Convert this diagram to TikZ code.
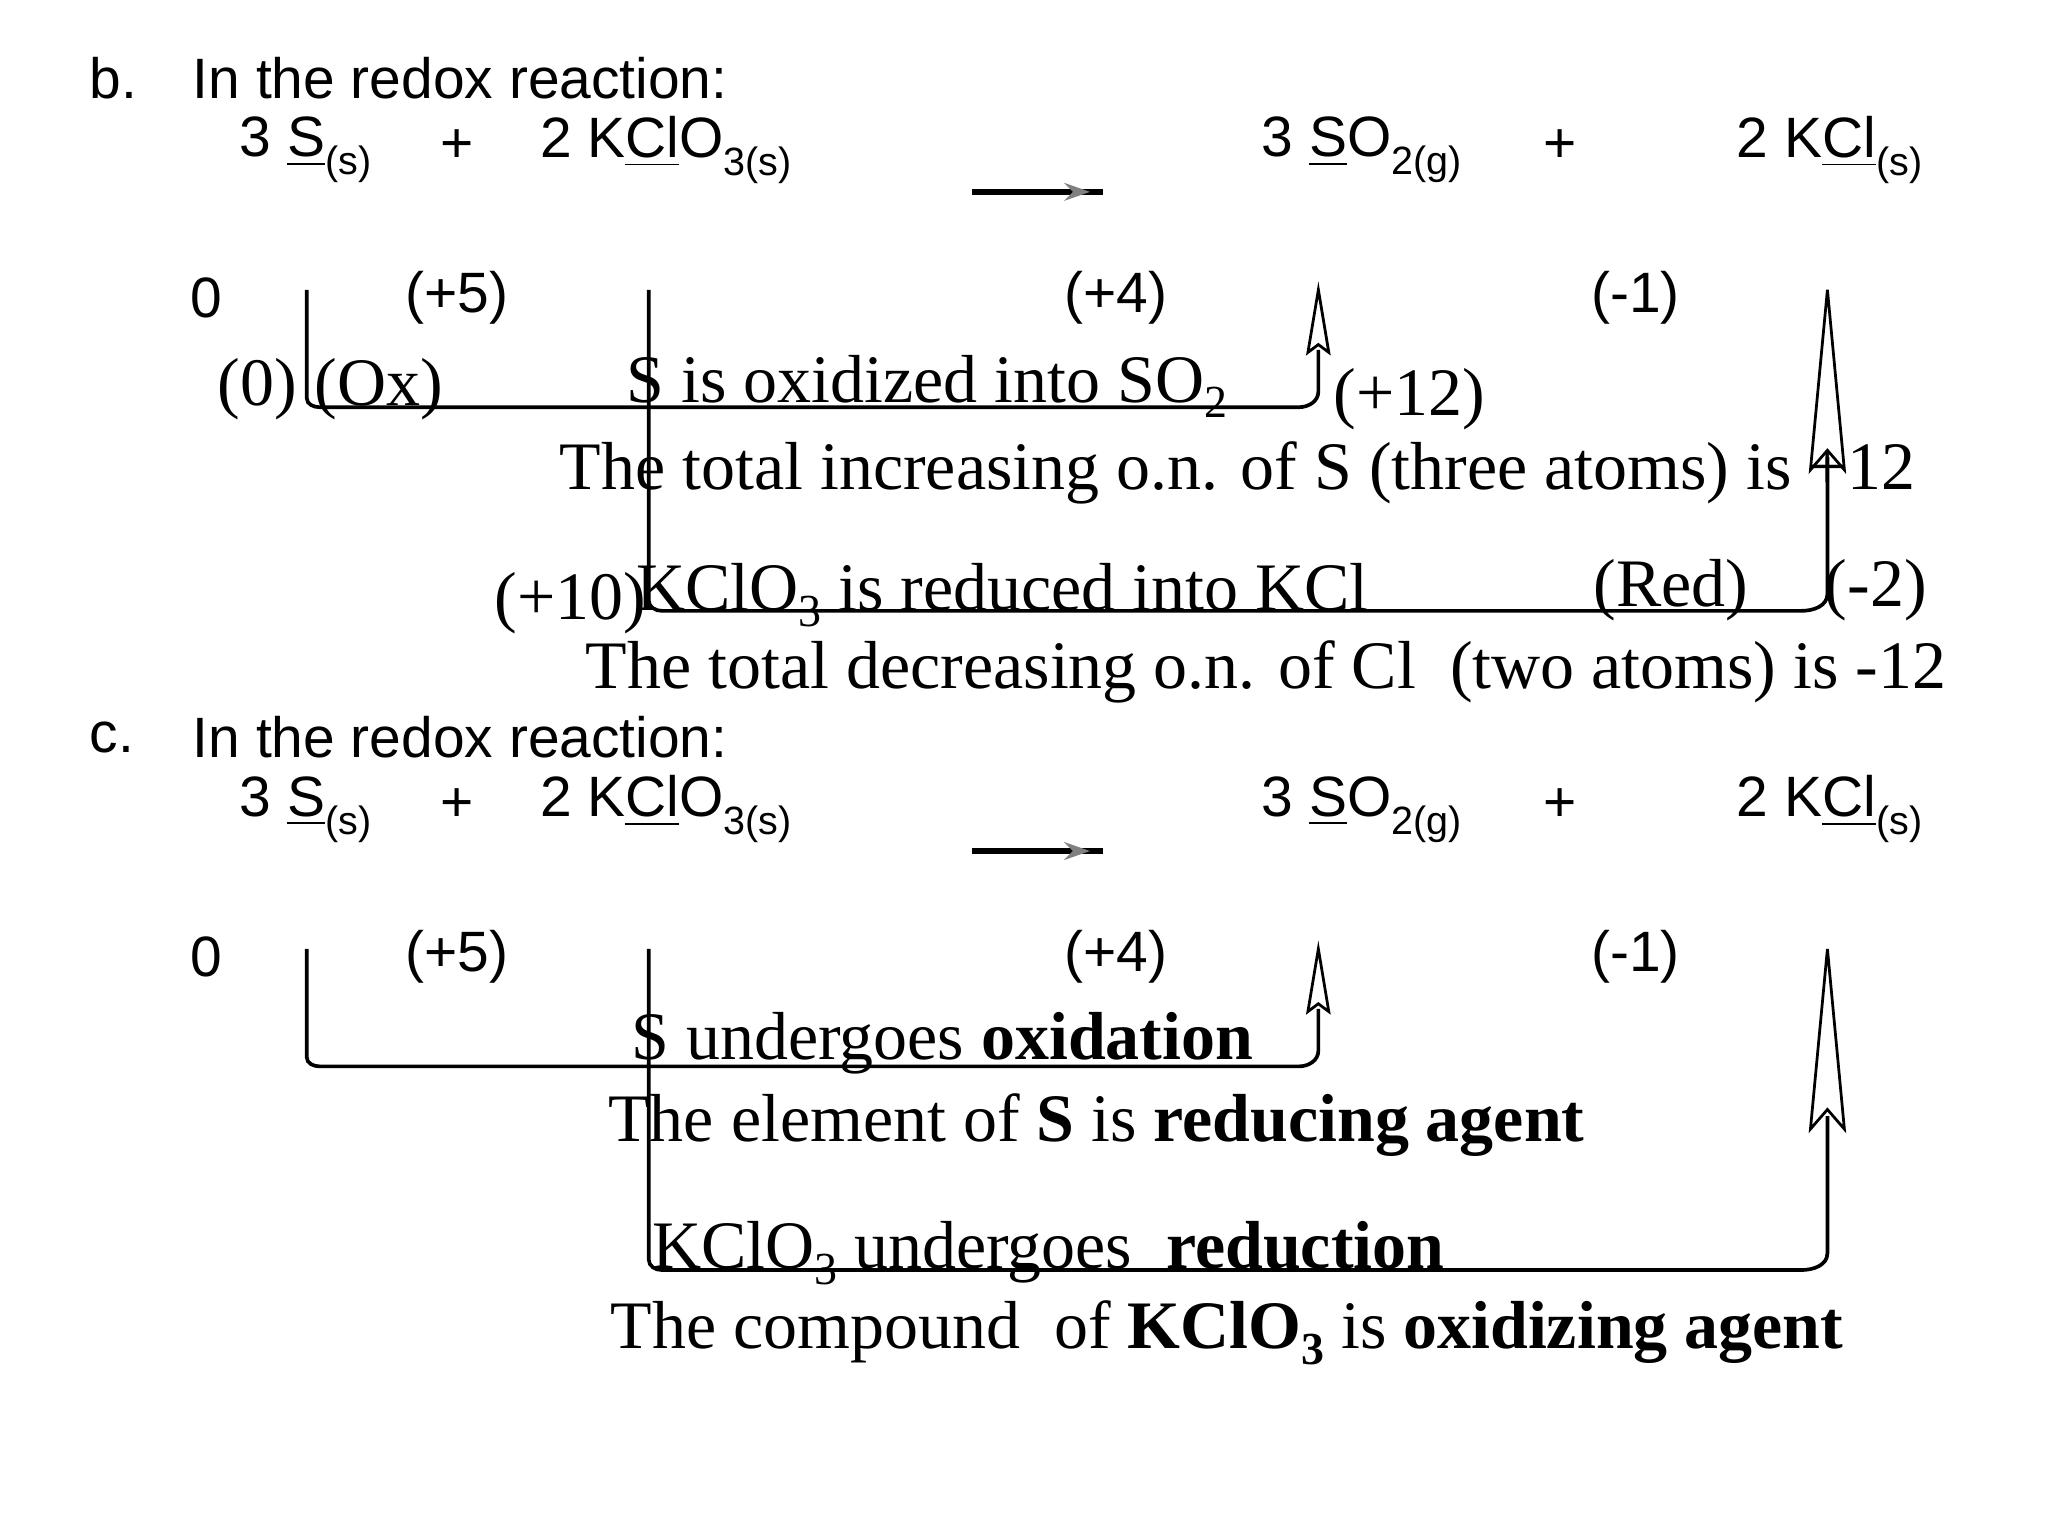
\documentclass[tikz,border=0pt]{standalone}
\usepackage{fontspec}
\setmainfont{Liberation Serif}
\newfontfamily\arial{Liberation Sans}
\tikzset{
 sf/.style={font=\arial\fontsize{12.4}{14}\selectfont,inner sep=0pt},
 tm/.style={font=\fontsize{14.8}{17}\selectfont,inner sep=0pt},
 br/.style={line width=0.8pt},
 hol/.style={line width=0.6pt,fill=white}
}
\newcommand{\ul}[1]{\underline{#1}}
\newcommand{\sbs}[1]{\raisebox{-0.6ex}{\fontsize{8.6}{10}\selectfont #1}}
\newcommand{\tsb}[1]{\raisebox{-0.5ex}{\fontsize{10}{10}\selectfont #1}}
\begin{document}
\begin{tikzpicture}[x=0.01cm,y=-0.01cm]
\useasboundingbox (0,0) rectangle (1569,1177);
\foreach \dy/\lab/\nm in {0/b./b,505/c./c}{
\begin{scope}[yshift=-\dy*0.01cm]
\node[sf,anchor=west] (\nm lab) at (68,60) {\lab};
\node[sf,anchor=west] (\nm head) at (147,60) {In the redox reaction:};
\node[sf,anchor=west] (\nm r1) at (183,115) {3 \ul{S}\sbs{(s)}};
\node[sf] (\nm p1) at (350,112) {+};
\node[sf,anchor=west] (\nm r2) at (413,115) {2 K\ul{Cl}O\sbs{3(s)}};
\node[sf,anchor=west] (\nm q1) at (966,115) {3 \ul{S}O\sbs{2(g)}};
\node[sf] (\nm p2) at (1195,112) {+};
\node[sf,anchor=west] (\nm q2) at (1330,115) {2 K\ul{Cl}\sbs{(s)}};
\coordinate (\nm a0) at (745,147); \coordinate (\nm a1) at (845,147);
\draw[line width=1.2pt] (\nm a0) -- (\nm a1);
\fill[gray] (815,140) -- (835,147) -- (815,154) -- (822,147) -- cycle;
\node[sf] (\nm n0) at (158,228) {0};
\node[sf] (\nm n1) at (350,228) {(+5)};
\node[sf] (\nm n2) at (855,228) {(+4)};
\node[sf] (\nm n3) at (1253,228) {(-1)};
\draw[br] (235,222) -- (235,305) to[out=-90,in=180] (245,312) -- (995,312) to[out=0,in=-90] (1010,300) -- (1010,268);
\draw[hol] (1010,222) -- (1002,270) -- (1010,264) -- (1018,270) -- cycle;
\draw[br] (497,222) -- (497,460) to[out=-90,in=180] (507,468) -- (1380,468) to[out=0,in=-90] (1400,455) -- (1400,350);
\draw[hol] (1400,222) -- (1387,360) -- (1400,345) -- (1413,360) -- cycle;
\end{scope}}
\node[tm] (t1) at (197,298) {(0)};
\node[tm] (t2) at (290,298) {(Ox)};
\node[tm] (t3) at (710,296) {S is oxidized into SO\tsb{2}};
\node[tm] (t4) at (1080,306) {(+12)};
\node[tm] (t5) at (948,362) {The total increasing o.n. of S (three atoms) is +12};
\node[tm] (t6) at (437,462) {(+10)};
\node[tm] (t7) at (768,456) {KClO\tsb{3} is reduced into KCl};
\node[tm] (t8) at (1280,452) {(Red)};
\node[tm] (t9) at (1437,452) {(-2)};
\node[tm] (t10) at (970,515) {The total decreasing o.n. of Cl\ \ (two atoms) is -12};
\node[tm] (u1) at (722,799) {S undergoes \textbf{oxidation}};
\node[tm] (u2) at (840,862) {The element of \textbf{S} is \textbf{reducing agent}};
\node[tm] (u3) at (803,960) {KClO\tsb{3} undergoes\ \ \textbf{reduction}};
\node[tm] (u4) at (940,1021) {The compound\ \ of \textbf{KClO\tsb{3}} is \textbf{oxidizing agent}};
\end{tikzpicture}
\end{document}
